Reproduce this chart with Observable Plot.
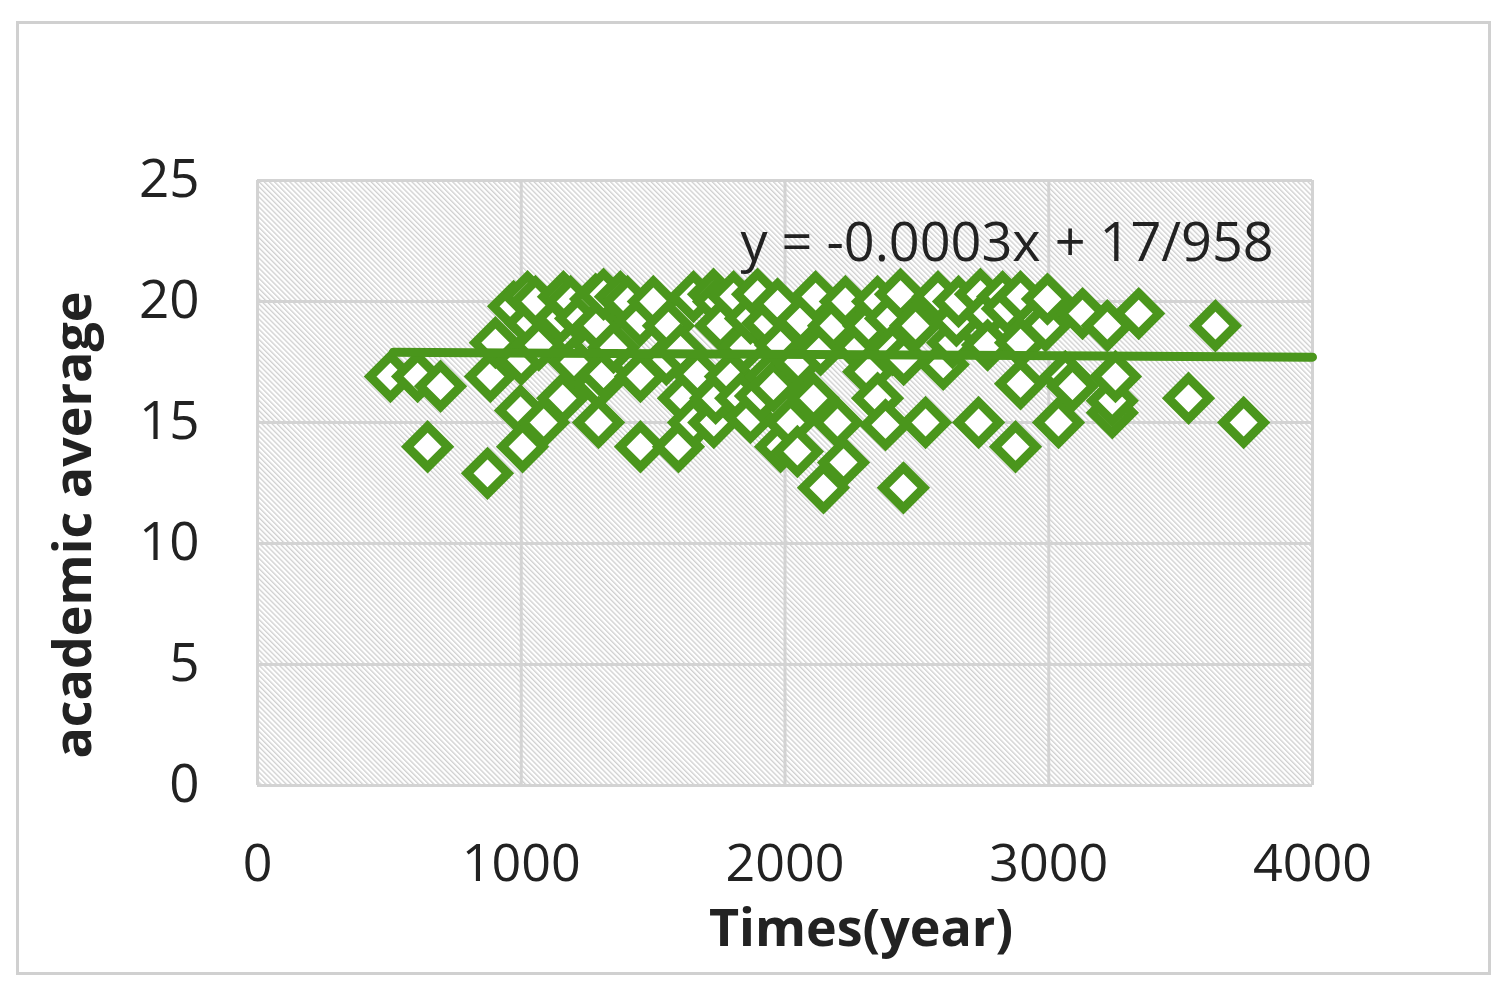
<!DOCTYPE html>
<html>
<head>
<meta charset="utf-8">
<script src="https://cdn.jsdelivr.net/npm/d3@7"></script>
<script src="https://cdn.jsdelivr.net/npm/@observablehq/plot@0.6"></script>
<style>
  html, body { margin: 0; padding: 0; background: #fff; }
  #wrap { position: relative; width: 1500px; height: 993px; }
  #border { position: absolute; left: 16px; top: 21px; width: 1469px; height: 948px; border: 3px solid #d0d0d0; box-sizing: content-box; }
  #chart { position: absolute; left: 0; top: 0; }
</style>
</head>
<body>
<div id="wrap"><div id="border"></div><div id="chart"></div></div>
<script>
// Tick values
const xTicks = [0, 1000, 2000, 3000, 4000];
const yTicks = [0, 5, 10, 15, 20, 25];

// Scatter data: time (years) and academic average
const times = [504, 607, 694, 645, 872, 883, 902, 971, 997, 1005, 1000, 1024, 1035, 1054, 1066, 1085, 1149, 1157, 1160, 1187, 1200, 1225, 1282, 1289, 1293, 1293, 1312, 1312, 1350, 1376, 1403, 1450, 1452, 1452, 1501, 1550, 1558, 1596, 1604, 1615, 1653, 1653, 1668, 1729, 1730, 1737, 1748, 1755, 1793, 1805, 1832, 1843, 1869, 1869, 1896, 1907, 1934, 1945, 1956, 1972, 1983, 1983, 2021, 2047, 2050, 2059, 2108, 2116, 2135, 2146, 2184, 2199, 2222, 2229, 2279, 2317, 2317, 2351, 2351, 2381, 2400, 2408, 2438, 2449, 2450, 2495, 2533, 2580, 2600, 2635, 2650, 2658, 2734, 2741, 2767, 2768, 2825, 2843, 2874, 2893, 2893, 2893, 2988, 2995, 3037, 3063, 3090, 3128, 3222, 3241, 3241, 3253, 3341, 3530, 3632, 3739];
const averages = [16.9, 16.9, 16.5, 14.0, 12.9, 16.9, 18.3, 19.8, 15.5, 14.0, 17.6, 20.2, 19.1, 20.0, 18.2, 15.0, 19.3, 16.0, 20.2, 20.0, 17.5, 19.3, 20.1, 19.0, 16.6, 15.0, 17.0, 20.3, 18.1, 20.2, 20.0, 19.2, 16.9, 14.0, 20.0, 17.6, 19.0, 14.0, 18.0, 16.0, 20.2, 15.0, 17.0, 20.3, 15.0, 16.0, 20.0, 19.0, 16.9, 20.2, 16.0, 18.1, 19.3, 15.2, 20.3, 16.1, 19.1, 16.9, 16.5, 19.9, 18.2, 14.0, 15.0, 13.8, 17.5, 19.2, 16.0, 20.2, 18.0, 12.3, 19.0, 15.0, 13.35, 20.0, 18.1, 19.0, 17.1, 20.0, 16.0, 14.9, 19.3, 18.0, 20.3, 12.3, 17.6, 19.0, 15.0, 20.2, 17.4, 18.3, 19.2, 20.0, 15.0, 20.3, 19.5, 18.2, 20.2, 19.7, 14.0, 20.2, 18.3, 16.6, 19.0, 20.1, 15.0, 16.9, 16.5, 19.5, 19.0, 15.4, 15.9, 16.9, 19.5, 16.0, 19.0, 15.0];

// Linear trend line end points
const trendX = [515, 4000];
const trendY = [17.9, 17.7];

const equation = "y = -0.0003x + 17/958";
const xTitle = "Times(year)";
const yTitle = "academic average";

const points = times.map((t, i) => ({x: t, y: averages[i]}));
const trend = trendX.map((t, i) => ({x: t, y: trendY[i]}));

const green = "#4a961c";
const textColor = "#222222";
const gridColor = "#d3d3d3";

const chart = Plot.plot({
  width: 1500,
  height: 993,
  marginLeft: 257,
  marginRight: 188,
  marginTop: 180,
  marginBottom: 208,
  style: {fontFamily: "'Open Sans', sans-serif", background: "transparent", color: textColor},
  x: {domain: [0, 4000]},
  y: {domain: [0, 25]},
  marks: [
    Plot.frame({fill: "url(#hatch)", stroke: null}),
    Plot.gridX(xTicks, {stroke: gridColor, strokeOpacity: 1, strokeWidth: 3}),
    Plot.gridY(yTicks, {stroke: gridColor, strokeOpacity: 1, strokeWidth: 3}),
    Plot.axisX(xTicks, {tickSize: 0, tickPadding: 59, fontSize: 52, label: null, tickFormat: d => String(d), fill: textColor}),
    Plot.axisY(yTicks, {tickSize: 0, tickPadding: 58, fontSize: 53, label: null, tickFormat: d => String(d), fill: textColor}),
    Plot.dot(points, {x: "x", y: "y", symbol: "diamond2", r: 18.3, stroke: green, strokeWidth: 9, fill: "white"}),
    Plot.line(trend, {x: "x", y: "y", stroke: green, strokeWidth: 9}),
    Plot.text([equation], {x: 1831, y: 22.4, text: d => d, textAnchor: "start", fontSize: 54, fill: textColor}),
    Plot.text([xTitle], {frameAnchor: "bottom", dx: 76, dy: 160, text: d => d, fontSize: 52, fontWeight: "bold", fill: textColor}),
    Plot.text([yTitle], {frameAnchor: "left", dx: -183, dy: 42, rotate: -90, textAnchor: "middle", text: d => d, fontSize: 52, fontWeight: "bold", fill: textColor})
  ]
});

const svg = d3.select(chart);
const defs = svg.insert("defs", ":first-child");
const pat = defs.append("pattern")
  .attr("id", "hatch")
  .attr("patternUnits", "userSpaceOnUse")
  .attr("width", 3.6)
  .attr("height", 3.6)
  .attr("patternTransform", "rotate(-45)");
pat.append("rect").attr("width", 3.6).attr("height", 3.6).attr("fill", "white");
pat.append("line").attr("x1", 0.7).attr("y1", 0).attr("x2", 0.7).attr("y2", 3.6)
  .attr("stroke", "#cacaca").attr("stroke-width", 1.2);

document.getElementById("chart").appendChild(chart);
</script>
</body>
</html>
